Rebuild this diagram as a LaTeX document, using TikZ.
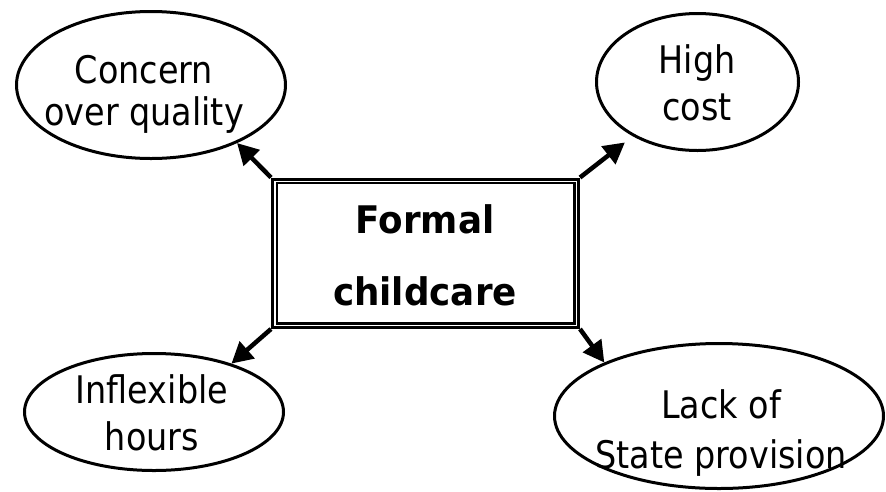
\documentclass[tikz,border=0pt]{standalone}
\usepackage{fontspec}
\setmainfont{DejaVu Sans}[FakeStretch=0.88, BoldFeatures={FakeStretch=0.94}]
\usetikzlibrary{arrows.meta,shapes.geometric}
\newcommand\twolines[3]{\fontsize{#1}{#2}\selectfont\begin{tabular}[t]{@{}c@{}}#3\end{tabular}}
\begin{document}
\begin{tikzpicture}[x=1pt,y=-1pt,
  bubble/.style={draw, ellipse, line width=3pt, inner sep=0pt},
  lbl/.style={anchor=base, inner sep=0pt},
  conn/.style={line width=4.5pt, -{Triangle[length=21pt,width=22pt]}},
  frame/.style={draw, line width=3pt, inner sep=0pt}]
\useasboundingbox (0,0) rectangle (886,491);
% central box
\node[frame, minimum width=306pt, minimum height=148.5pt] (box) at (425.5,253.25) {};
\draw[line width=2.2pt] ([shift={(5.6,5.6)}]box.north west) rectangle ([shift={(-5.6,-5.6)}]box.south east);
\node[lbl] (boxtext) at (425,233) {\bfseries\twolines{38}{72}{Formal\\childcare}};
% ellipses
\node[bubble, minimum width=269pt, minimum height=147pt] (tl) at (151,85) {};
\node[bubble, minimum width=202pt, minimum height=137pt] (tr) at (697.5,82) {};
\node[bubble, minimum width=259pt, minimum height=117pt] (bl) at (154,412) {};
\node[bubble, minimum width=329pt, minimum height=145pt] (br) at (719,416) {};
% labels
\node[lbl] (tltext) at (144,83) {\twolines{38}{42}{Concern\\over quality}};
\node[lbl] (trtext) at (697,73) {\twolines{38}{47}{High\\cost}};
\node[lbl] (bltext) at (152,403) {\twolines{38}{47}{Inflexible\\hours}};
\node[lbl] (brtext) at (721,418) {\twolines{38}{50}{Lack of\\State provision}};
% connectors
\draw[conn] (box.north west) -- (tl.-34);
\draw[conn, shorten >=10pt] (box.north east) -- (tr.220);
\draw[conn] (box.south west) -- (bl.32);
\draw[conn] (box.south east) -- (br.155);
\end{tikzpicture}
\end{document}
